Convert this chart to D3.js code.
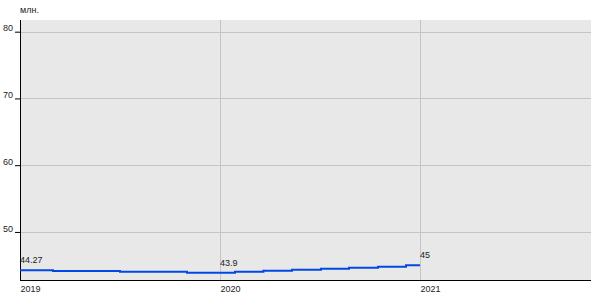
<!DOCTYPE html>
<html>
<head>
<meta charset="utf-8">
<script src="https://cdn.jsdelivr.net/npm/d3@7"></script>
<style>
  body { margin: 0; background: #fff; }
  svg text { font-family: "Liberation Sans", Arial, sans-serif; fill: #222; }
</style>
</head>
<body>
<div id="chart"></div>
<script>

// step breakpoints (fractional years) and the value held from each one
var stepYears = [2019, 2019.165, 2019.5, 2019.835, 2020.075, 2020.217, 2020.36, 2020.505, 2020.645, 2020.79, 2020.93, 2021];
var stepValues = [44.27, 44.15, 44.05, 43.9, 44.05, 44.2, 44.35, 44.5, 44.65, 44.8, 45, 45];

var labelYears = [2019, 2020, 2021];
var labelValues = [44.27, 43.9, 45];

var xTicks = [2019, 2020, 2021];
var yTicks = [50, 60, 70, 80];
var unitLabel = 'млн.';

var settings = {
  width: 600,
  height: 300,
  margin: [20, 9, 20, 20]
};

function translate(x, y) {
  return 'translate(' + x + ',' + y + ')';
}

var innerWidth = settings.width - settings.margin[1] - settings.margin[3];
var innerHeight = settings.height - settings.margin[0] - settings.margin[2];

var svg = d3.select('#chart').append('svg')
  .attr('width', settings.width)
  .attr('height', settings.height);

var g = svg.append('g')
  .attr('transform', translate(settings.margin[3], settings.margin[0]));

var x = d3.scaleLinear()
  .domain([2019, 2021.855])
  .range([0, innerWidth]);

var y = d3.scaleLinear()
  .domain([42.8, 81.75])
  .range([innerHeight, 0]);

// background
g.append('rect')
  .attr('width', innerWidth)
  .attr('height', innerHeight)
  .attr('fill', '#e8e8e8');

// grid
g.selectAll('.grid-y')
  .data(yTicks)
  .enter().append('line')
  .attr('class', 'grid-y')
  .attr('x1', 0).attr('x2', innerWidth)
  .attr('y1', function(d) { return Math.round(y(d)) + 0.5; })
  .attr('y2', function(d) { return Math.round(y(d)) + 0.5; })
  .attr('stroke', '#c4c4c4');

g.selectAll('.grid-x')
  .data(xTicks.slice(1))
  .enter().append('line')
  .attr('class', 'grid-x')
  .attr('y1', 0).attr('y2', innerHeight)
  .attr('x1', function(d) { return Math.round(x(d)) + 0.5; })
  .attr('x2', function(d) { return Math.round(x(d)) + 0.5; })
  .attr('stroke', '#c4c4c4');

// axes
var yAxis = d3.axisLeft(y)
  .tickValues(yTicks)
  .tickSize(5)
  .tickPadding(2);

var yG = g.append('g').call(yAxis);
yG.select('.domain').remove();
yG.selectAll('.tick line').attr('stroke', '#000');
yG.selectAll('.tick text')
  .attr('font-size', 9)
  .attr('dy', '-0.1em');

var xAxis = d3.axisBottom(x)
  .tickValues(xTicks)
  .tickFormat(d3.format('d'))
  .tickSize(0)
  .tickPadding(6);

var xG = g.append('g')
  .attr('transform', translate(0, innerHeight))
  .call(xAxis);
xG.select('.domain').remove();
xG.selectAll('.tick text')
  .attr('font-size', 9)
  .attr('text-anchor', 'start');

g.append('line')
  .attr('x1', 0.5).attr('x2', 0.5)
  .attr('y1', 0).attr('y2', innerHeight)
  .attr('stroke', '#000');

g.append('line')
  .attr('x1', 0).attr('x2', innerWidth)
  .attr('y1', innerHeight + 0.5).attr('y2', innerHeight + 0.5)
  .attr('stroke', '#000');

// unit
svg.append('text')
  .attr('x', 20)
  .attr('y', 13)
  .attr('font-size', 9)
  .text(unitLabel);

// step line
var steps = stepYears.map(function(d, i) { return [d, stepValues[i]]; });

var line = d3.line()
  .x(function(d) { return x(d[0]); })
  .y(function(d) { return y(d[1]); })
  .curve(d3.curveStepAfter);

g.append('path')
  .datum(steps)
  .attr('d', line)
  .attr('fill', 'none')
  .attr('stroke', '#0049e6')
  .attr('stroke-width', 2);

// value labels
g.selectAll('.value-label')
  .data(labelYears)
  .enter().append('text')
  .attr('class', 'value-label')
  .attr('x', function(d) { return x(d); })
  .attr('y', function(d, i) { return y(labelValues[i]) - 7; })
  .attr('font-size', 9)
  .text(function(d, i) { return labelValues[i]; });

</script>
</body>
</html>
